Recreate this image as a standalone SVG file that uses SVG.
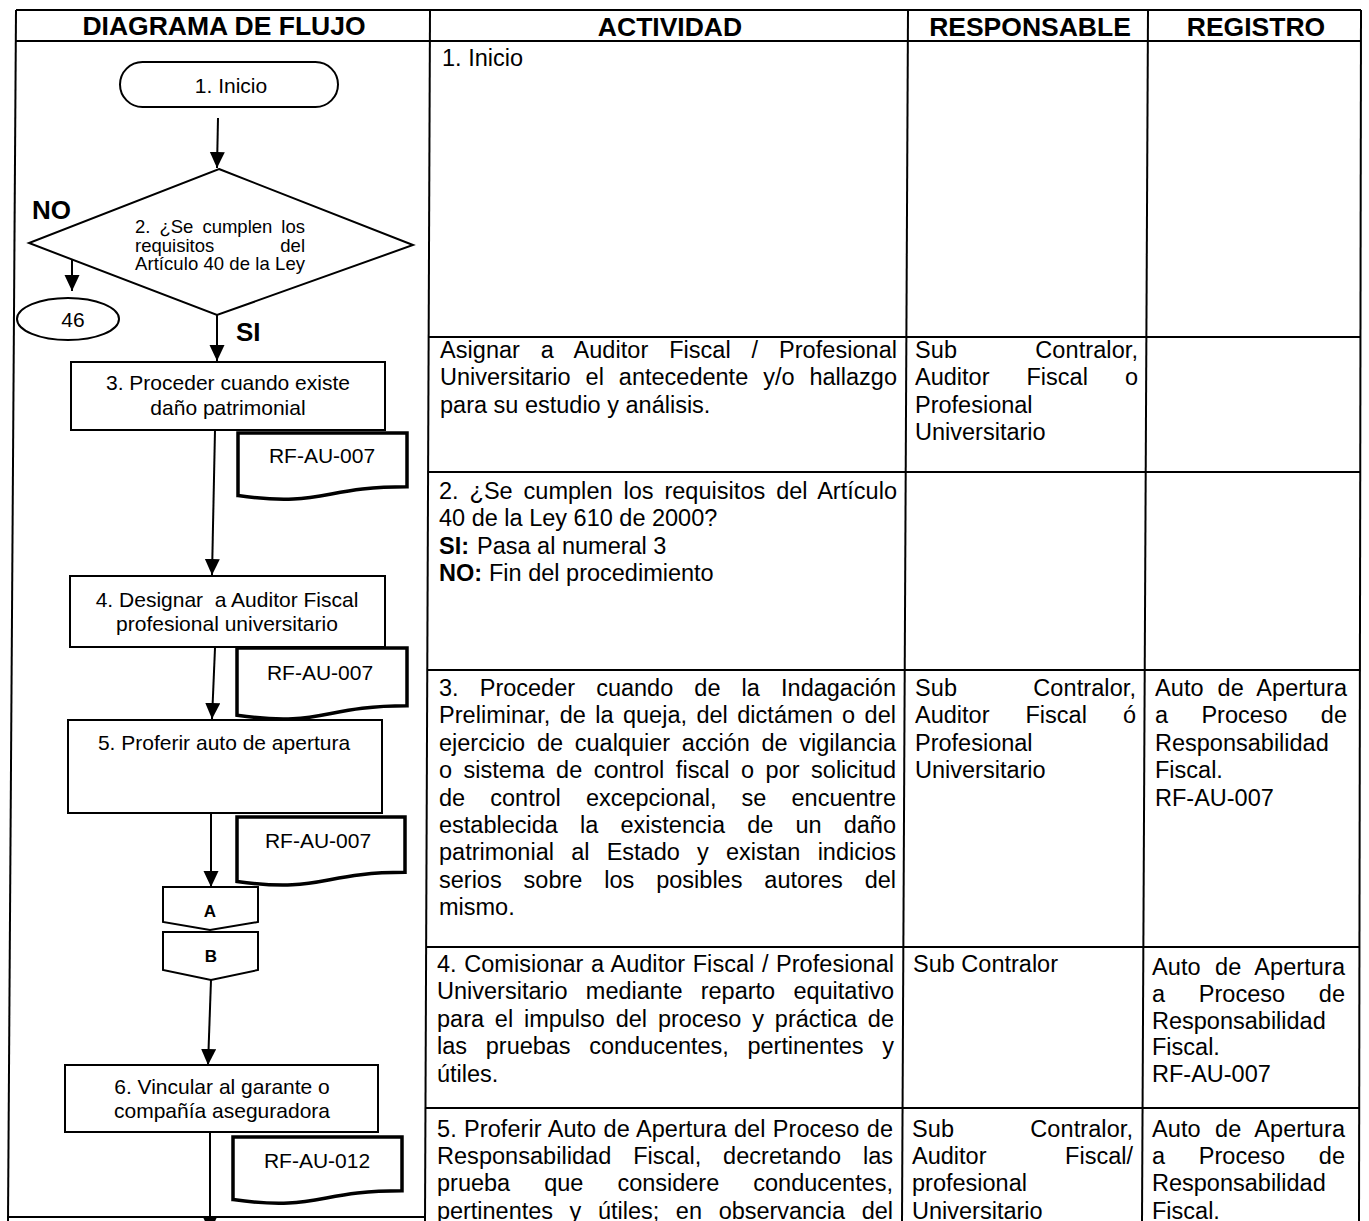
<svg xmlns="http://www.w3.org/2000/svg" width="1369" height="1221" viewBox="0 0 1369 1221">
<style>
.ln{stroke:#000;stroke-width:2;fill:none}
.box{stroke:#000;stroke-width:2;fill:#fff}
.doc{stroke:#000;stroke-width:3.5;fill:#fff}
.cn{stroke:#000;stroke-width:2;fill:none;marker-end:url(#ah)}
.h{font-family:"Liberation Sans",Arial,sans-serif;font-weight:bold;font-size:26.5px;text-anchor:middle}
.t{font-family:"Liberation Sans",Arial,sans-serif;font-size:23.5px}
.tb{font-family:"Liberation Sans",Arial,sans-serif;font-size:23.5px;font-weight:bold}
.f{font-family:"Liberation Sans",Arial,sans-serif;font-size:21px;text-anchor:middle}
.d{font-family:"Liberation Sans",Arial,sans-serif;font-size:18.5px}
.lb{font-family:"Liberation Sans",Arial,sans-serif;font-size:26px;font-weight:bold}
.c{font-family:"Liberation Sans",Arial,sans-serif;font-size:17px;font-weight:bold;text-anchor:middle}
</style>
<defs>
<marker id="ah" markerUnits="userSpaceOnUse" markerWidth="17" markerHeight="17" refX="16" refY="7.5" orient="auto">
<path d="M0,0 L16,7.5 L0,15 Z" fill="#000"/>
</marker>
</defs>
<rect width="1369" height="1221" fill="#fff"/>

<g id="table">
<line class="ln" x1="16" y1="10" x2="1361" y2="10"/>
<line class="ln" x1="16" y1="41" x2="1361" y2="41"/>
<line class="ln" x1="16" y1="10" x2="8" y2="1221"/>
<line class="ln" x1="430" y1="10" x2="425" y2="1221"/>
<line class="ln" x1="908" y1="10" x2="902" y2="1221"/>
<line class="ln" x1="1148" y1="10" x2="1142" y2="1221"/>
<line class="ln" x1="1361" y1="10" x2="1359" y2="1221"/>
<line class="ln" x1="429" y1="337" x2="1361" y2="337"/>
<line class="ln" x1="428" y1="472" x2="1361" y2="472"/>
<line class="ln" x1="428" y1="670" x2="1360" y2="670"/>
<line class="ln" x1="427" y1="947" x2="1360" y2="947"/>
<line class="ln" x1="426" y1="1108" x2="1360" y2="1108"/>
<line class="ln" x1="8" y1="1217" x2="425" y2="1217"/>
<text class="h" x="224" y="35">DIAGRAMA DE FLUJO</text>
<text class="h" x="670" y="36">ACTIVIDAD</text>
<text class="h" x="1030" y="36">RESPONSABLE</text>
<text class="h" x="1256" y="36">REGISTRO</text>
</g>

<g id="row1">
<text class="t" x="442" y="66">1. Inicio</text>
</g>

<g id="row-asignar">
<text class="t" x="440" y="358" textLength="457" lengthAdjust="spacing" style="word-spacing:14.3px">Asignar a Auditor Fiscal / Profesional</text>
<text class="t" x="440" y="385.4" textLength="457" lengthAdjust="spacing" style="word-spacing:8.4px">Universitario el antecedente y/o hallazgo</text>
<text class="t" x="440" y="412.8">para su estudio y análisis.</text>
<text class="t" x="915" y="358" textLength="223" lengthAdjust="spacing" style="word-spacing:71.5px">Sub Contralor,</text>
<text class="t" x="915" y="385.4" textLength="223" lengthAdjust="spacing" style="word-spacing:30.5px">Auditor Fiscal o</text>
<text class="t" x="915" y="412.8">Profesional</text>
<text class="t" x="915" y="440.2">Universitario</text>
</g>

<g id="row2">
<text class="t" x="439" y="499" textLength="458" lengthAdjust="spacing" style="word-spacing:4.3px">2. ¿Se cumplen los requisitos del Artículo</text>
<text class="t" x="439" y="526.4">40 de la Ley 610 de 2000?</text>
<text class="tb" x="439" y="553.8">SI:</text>
<text class="t" x="477" y="553.8">Pasa al numeral 3</text>
<text class="tb" x="439" y="581.2">NO:</text>
<text class="t" x="489" y="581.2">Fin del procedimiento</text>
</g>

<g id="row3">
<text class="t" x="439" y="696" textLength="457" lengthAdjust="spacing" style="word-spacing:14.6px">3. Proceder cuando de la Indagación</text>
<text class="t" x="439" y="723.4" textLength="457" lengthAdjust="spacing" style="word-spacing:2.8px">Preliminar, de la queja, del dictámen o del</text>
<text class="t" x="439" y="750.8" textLength="457" lengthAdjust="spacing" style="word-spacing:5.2px">ejercicio de cualquier acción de vigilancia</text>
<text class="t" x="439" y="778.2" textLength="457" lengthAdjust="spacing" style="word-spacing:5px">o sistema de control fiscal o por solicitud</text>
<text class="t" x="439" y="805.6" textLength="457" lengthAdjust="spacing" style="word-spacing:18.6px">de control excepcional, se encuentre</text>
<text class="t" x="439" y="833" textLength="457" lengthAdjust="spacing" style="word-spacing:15.6px">establecida la existencia de un daño</text>
<text class="t" x="439" y="860.4" textLength="457" lengthAdjust="spacing" style="word-spacing:10.7px">patrimonial al Estado y existan indicios</text>
<text class="t" x="439" y="887.8" textLength="457" lengthAdjust="spacing" style="word-spacing:15.4px">serios sobre los posibles autores del</text>
<text class="t" x="439" y="915.2">mismo.</text>
<text class="t" x="915" y="696" textLength="221" lengthAdjust="spacing" style="word-spacing:69.5px">Sub Contralor,</text>
<text class="t" x="915" y="723.4" textLength="221" lengthAdjust="spacing" style="word-spacing:29.5px">Auditor Fiscal ó</text>
<text class="t" x="915" y="750.8">Profesional</text>
<text class="t" x="915" y="778.2">Universitario</text>
<text class="t" x="1155" y="696" textLength="192" lengthAdjust="spacing" style="word-spacing:7.2px">Auto de Apertura</text>
<text class="t" x="1155" y="723.4" textLength="192" lengthAdjust="spacing" style="word-spacing:26.8px">a Proceso de</text>
<text class="t" x="1155" y="750.8">Responsabilidad</text>
<text class="t" x="1155" y="778.2">Fiscal.</text>
<text class="t" x="1155" y="805.6">RF-AU-007</text>
</g>

<g id="row4">
<text class="t" x="437" y="972" textLength="457" lengthAdjust="spacing" style="word-spacing:1px">4. Comisionar a Auditor Fiscal / Profesional</text>
<text class="t" x="437" y="999.4" textLength="457" lengthAdjust="spacing" style="word-spacing:11.7px">Universitario mediante reparto equitativo</text>
<text class="t" x="437" y="1026.8" textLength="457" lengthAdjust="spacing" style="word-spacing:4.3px">para el impulso del proceso y práctica de</text>
<text class="t" x="437" y="1054.2" textLength="457" lengthAdjust="spacing" style="word-spacing:12.4px">las pruebas conducentes, pertinentes y</text>
<text class="t" x="437" y="1081.6">útiles.</text>
<text class="t" x="913" y="972">Sub Contralor</text>
<text class="t" x="1152" y="975" textLength="193" lengthAdjust="spacing" style="word-spacing:7.7px">Auto de Apertura</text>
<text class="t" x="1152" y="1001.8" textLength="193" lengthAdjust="spacing" style="word-spacing:27.2px">a Proceso de</text>
<text class="t" x="1152" y="1028.6">Responsabilidad</text>
<text class="t" x="1152" y="1055.4">Fiscal.</text>
<text class="t" x="1152" y="1082.2">RF-AU-007</text>
</g>

<g id="row5">
<text class="t" x="437" y="1137" textLength="456" lengthAdjust="spacing" style="word-spacing:0.8px">5. Proferir Auto de Apertura del Proceso de</text>
<text class="t" x="437" y="1164.2" textLength="456" lengthAdjust="spacing" style="word-spacing:15.3px">Responsabilidad Fiscal, decretando las</text>
<text class="t" x="437" y="1191.4" textLength="456" lengthAdjust="spacing" style="word-spacing:27.5px">prueba que considere conducentes,</text>
<text class="t" x="437" y="1218.6" textLength="456" lengthAdjust="spacing" style="word-spacing:10.2px">pertinentes y útiles; en observancia del</text>
<text class="t" x="912" y="1137" textLength="221" lengthAdjust="spacing" style="word-spacing:69.5px">Sub Contralor,</text>
<text class="t" x="912" y="1164.2" textLength="221" lengthAdjust="spacing" style="word-spacing:72px">Auditor Fiscal/</text>
<text class="t" x="912" y="1191.4">profesional</text>
<text class="t" x="912" y="1218.6">Universitario</text>
<text class="t" x="1152" y="1137" textLength="193" lengthAdjust="spacing" style="word-spacing:7.7px">Auto de Apertura</text>
<text class="t" x="1152" y="1164.2" textLength="193" lengthAdjust="spacing" style="word-spacing:27.2px">a Proceso de</text>
<text class="t" x="1152" y="1191.4">Responsabilidad</text>
<text class="t" x="1152" y="1218.6">Fiscal.</text>
</g>

<g id="connectors">
<line class="cn" x1="218" y1="118" x2="217" y2="168"/>
<line class="cn" x1="72" y1="242" x2="72" y2="291"/>
<line class="cn" x1="217" y1="315" x2="217" y2="361"/>
<line class="cn" x1="215" y1="430" x2="212" y2="575"/>
<line class="cn" x1="215" y1="648" x2="212" y2="719"/>
<line class="cn" x1="211" y1="813" x2="211" y2="887"/>
<line class="cn" x1="211" y1="980" x2="208" y2="1065"/>
<line class="cn" x1="210" y1="1132" x2="210" y2="1232"/>
<text class="lb" x="32" y="219">NO</text>
<text class="lb" x="236" y="341">SI</text>
</g>

<g id="n1">
<rect class="box" x="120" y="62" width="218" height="45" rx="22.5"/>
<text class="f" x="231" y="93">1. Inicio</text>
</g>

<g id="n2">
<path class="box" d="M219,169 L413,245 L217,315 L29,243 Z"/>
<text class="d" x="135" y="233" textLength="170" lengthAdjust="spacing" style="word-spacing:3.9px">2. ¿Se cumplen los</text>
<text class="d" x="135" y="251.5" textLength="170" lengthAdjust="spacing" style="word-spacing:61px">requisitos del</text>
<text class="d" x="135" y="270" textLength="170" lengthAdjust="spacing">Artículo 40 de la Ley</text>
</g>

<g id="n46">
<ellipse class="box" cx="68" cy="319" rx="51" ry="21"/>
<text class="f" x="73" y="327">46</text>
</g>

<g id="n3">
<rect class="box" x="71" y="362" width="314" height="68"/>
<text class="f" x="228" y="390">3. Proceder cuando existe</text>
<text class="f" x="228" y="415">daño patrimonial</text>
</g>

<g id="doc3">
<path class="doc" d="M238,433 H407 V486.7 C322.5,486.7 322.5,507.2 238,495.6 Z"/>
<text class="f" x="322" y="463">RF-AU-007</text>
</g>

<g id="n4">
<rect class="box" x="70" y="576" width="315" height="71"/>
<text class="f" x="227" y="607">4. Designar&#160; a Auditor Fiscal</text>
<text class="f" x="227" y="631">profesional universitario</text>
</g>

<g id="doc4">
<path class="doc" d="M237,648 H407 V705.7 C322,705.7 322,727.7 237,715.2 Z"/>
<text class="f" x="320" y="680">RF-AU-007</text>
</g>

<g id="n5">
<rect class="box" x="68" y="720" width="314" height="93"/>
<text class="f" x="224" y="750">5. Proferir auto de apertura</text>
</g>

<g id="doc5">
<path class="doc" d="M237,817 H405 V872.3 C321,872.3 321,893.4 237,881.4 Z"/>
<text class="f" x="318" y="848">RF-AU-007</text>
</g>

<g id="connA">
<path class="box" d="M163,887 H258 V922 L210,930 L163,922 Z"/>
<text class="c" x="210" y="917">A</text>
</g>

<g id="connB">
<path class="box" d="M163,932 H258 V970 L211,980 L163,970 Z"/>
<text class="c" x="211" y="962">B</text>
</g>

<g id="n6">
<rect class="box" x="65" y="1065" width="313" height="67"/>
<text class="f" x="222" y="1094">6. Vincular al garante o</text>
<text class="f" x="222" y="1118">compañía aseguradora</text>
</g>

<g id="doc6">
<path class="doc" d="M233,1137 H402 V1190.7 C317.5,1190.7 317.5,1211.2 233,1199.6 Z"/>
<text class="f" x="317" y="1168">RF-AU-012</text>
</g>
</svg>
